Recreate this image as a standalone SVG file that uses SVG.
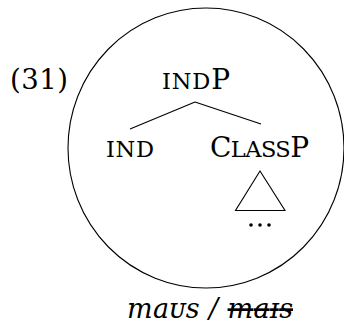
<svg xmlns="http://www.w3.org/2000/svg" width="344" height="326" viewBox="0 0 344 326">
  <style>
    .t { font-family: "DejaVu Serif", "Liberation Serif", serif; fill: #000; }
    .big { font-size: 28px; }
    .sc { font-size: 22.5px; }
    .it { font-family: "DejaVu Serif", "Liberation Serif", serif; font-style: italic; font-size: 27px; fill: #000; }
    .ln { stroke: #000; stroke-width: 1.1; fill: none; }
  </style>
  <rect width="344" height="326" fill="#fff"/>

  <!-- example number -->
  <g id="ex-number">
    <text class="t" x="10" y="89" font-size="27.5" textLength="58">(31)</text>
  </g>

  <!-- enclosing circle -->
  <g id="domain">
    <ellipse class="ln" cx="206" cy="148" rx="138" ry="140"/>
  </g>

  <!-- tree nodes -->
  <g id="node-indP">
    <text class="t big" x="162" y="89" textLength="68"><tspan class="sc">IND</tspan>P</text>
  </g>
  <g id="node-ind">
    <text class="t sc" x="106" y="157" textLength="48">IND</text>
  </g>
  <g id="node-classP">
    <text class="t big" x="210" y="157" textLength="99">C<tspan class="sc">LASS</tspan>P</text>
  </g>
  <g id="node-classP-sub">
    <polygon class="ln" points="260,171 235.5,210.5 285,210.5"/>
    <circle cx="251" cy="225" r="1.8" fill="#000"/>
    <circle cx="260" cy="225" r="1.8" fill="#000"/>
    <circle cx="269" cy="225" r="1.8" fill="#000"/>
  </g>

  <!-- branches -->
  <g id="connectors">
    <line class="ln" x1="195" y1="102" x2="130" y2="129"/>
    <line class="ln" x1="195" y1="102" x2="261" y2="124"/>
  </g>

  <!-- form caption -->
  <g id="caption">
    <text class="it" x="127" y="318" textLength="166">maᴜs / <tspan text-decoration="line-through">maɪs</tspan></text>
  </g>
</svg>
